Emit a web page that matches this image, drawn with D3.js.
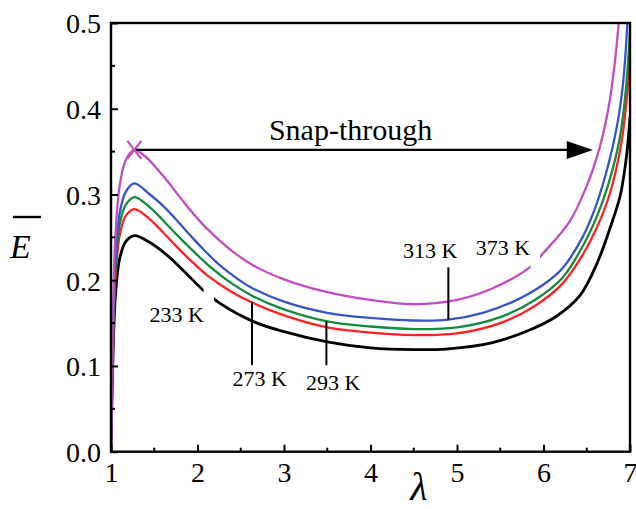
<!DOCTYPE html>
<html><head><meta charset="utf-8">
<script src="https://cdn.jsdelivr.net/npm/d3@7"></script>
<style>body{margin:0;background:#fff}svg{display:block}</style>
</head><body>
<svg id="chart" width="636" height="509"></svg>
<script>
// ---------- data ----------
const xTicks = [1, 2, 3, 4, 5, 6, 7];
const yTicks = [0.0, 0.1, 0.2, 0.3, 0.4, 0.5];
const yTickLabels = ["0.0", "0.1", "0.2", "0.3", "0.4", "0.5"];

const s233 = [[1,0],[1.02,0.10],[1.05,0.18],[1.1,0.225],[1.17,0.245],[1.27,0.252],[1.45,0.244],[1.65,0.229],[1.85,0.210],[2.06,0.189],[2.26,0.173],[2.64,0.152],[3.0,0.140],[3.5,0.128],[4.0,0.121],[4.5,0.119],[4.9,0.120],[5.4,0.127],[5.84,0.142],[6.15,0.158],[6.42,0.182],[6.62,0.220],[6.80,0.270],[6.89,0.300],[6.96,0.345],[7.0,0.39]];
const s273 = [[1,0],[1.02,0.11],[1.05,0.20],[1.1,0.252],[1.17,0.275],[1.27,0.283],[1.45,0.271],[1.6,0.256],[1.75,0.240],[1.91,0.224],[2.12,0.205],[2.4,0.186],[2.63,0.174],[3.0,0.159],[3.5,0.145],[4.0,0.139],[4.5,0.136],[5.0,0.138],[5.5,0.150],[5.9,0.170],[6.22,0.196],[6.45,0.229],[6.62,0.262],[6.77,0.302],[6.9,0.36],[6.97,0.42],[7.0,0.46]];
const s293 = [[1,0],[1.02,0.115],[1.05,0.21],[1.1,0.265],[1.17,0.288],[1.27,0.297],[1.45,0.285],[1.6,0.270],[1.75,0.254],[1.91,0.238],[2.12,0.218],[2.4,0.196],[2.63,0.182],[3.0,0.166],[3.5,0.152],[4.0,0.146],[4.5,0.143],[5.0,0.145],[5.5,0.157],[5.9,0.177],[6.22,0.203],[6.45,0.239],[6.62,0.275],[6.75,0.312],[6.88,0.365],[6.95,0.42],[7.0,0.49]];
const s313 = [[1,0],[1.02,0.12],[1.05,0.22],[1.1,0.278],[1.17,0.303],[1.27,0.313],[1.45,0.300],[1.6,0.287],[1.75,0.271],[1.91,0.253],[2.03,0.240],[2.24,0.219],[2.5,0.199],[2.63,0.191],[3.0,0.175],[3.5,0.162],[4.0,0.156],[4.5,0.153],[4.9,0.154],[5.3,0.162],[5.65,0.175],[6.0,0.195],[6.22,0.214],[6.45,0.250],[6.6,0.285],[6.75,0.335],[6.85,0.38],[6.92,0.43],[6.97,0.5]];
const s373 = [[1,0],[1.02,0.14],[1.05,0.25],[1.1,0.310],[1.17,0.340],[1.27,0.352],[1.4,0.344],[1.6,0.322],[1.85,0.290],[2.1,0.261],[2.4,0.234],[2.65,0.217],[3.0,0.201],[3.5,0.186],[4.0,0.177],[4.5,0.172],[5.0,0.177],[5.4,0.190],[5.84,0.215],[6.0,0.232],[6.3,0.268],[6.5,0.310],[6.65,0.355],[6.75,0.400],[6.82,0.450],[6.87,0.500]];

const seriesNames = ["233 K", "273 K", "293 K", "313 K", "373 K"];
const seriesData = [s233, s273, s293, s313, s373];
const seriesColors = ["#000000", "#ff2020", "#138a3c", "#3556c8", "#c44bc4"];
// gaps in the lines next to labels (lambda ranges)
const seriesGaps = [[2.07, 2.19], null, null, null, [5.85, 5.96]];

// annotations: [label, lambda, E] for text; leader lines [lambda, E from, E to]
const labelPos = [["233 K", 1.76, 0.151], ["273 K", 2.72, 0.077], ["293 K", 3.57, 0.072], ["313 K", 4.69, 0.226], ["373 K", 5.53, 0.229]];
const leaders = [[2.63, 0.174, 0.101], [3.49, 0.152, 0.101], [4.90, 0.154, 0.215]];
const snapPeak = [1.27, 0.352];
const snapEnd = 6.57;

// ---------- drawing ----------
const FONT = '"Liberation Serif", "Times New Roman", serif';
const svg = d3.select("#chart");
const x = d3.scaleLinear().domain([1, 7]).range([111, 630]);
const y = d3.scaleLinear().domain([0, 0.5]).range([451.7, 23]);

const defs = svg.append("defs");
defs.append("clipPath").attr("id", "plotclip").append("rect")
  .attr("x", x(1)).attr("y", y(0.5)).attr("width", x(7) - x(1)).attr("height", y(0) - y(0.5));

seriesGaps.forEach((g, i) => {
  if (!g) return;
  const m = defs.append("mask").attr("id", "gap" + i).attr("maskUnits", "userSpaceOnUse")
    .attr("x", 0).attr("y", 0).attr("width", 636).attr("height", 509);
  m.append("rect").attr("x", 0).attr("y", 0).attr("width", 636).attr("height", 509).attr("fill", "#fff");
  m.append("rect").attr("x", x(g[0])).attr("y", 0).attr("width", x(g[1]) - x(g[0])).attr("height", 509).attr("fill", "#000");
});

const line = d3.line().x(d => x(d[0])).y(d => y(d[1])).curve(d3.curveCatmullRom.alpha(0.5));

const curves = svg.append("g").attr("clip-path", "url(#plotclip)");
seriesData.forEach((data, i) => {
  curves.append("path").datum(data)
    .attr("d", line)
    .attr("fill", "none")
    .attr("stroke", seriesColors[i])
    .attr("stroke-width", i === 0 ? 2.8 : 2.3)
    .attr("mask", seriesGaps[i] ? "url(#gap" + i + ")" : null);
});

// axes
const xAxis = d3.axisBottom(x).tickValues(xTicks).tickSize(-7).tickPadding(15).tickFormat(d3.format("d"));
const gx = svg.append("g").attr("transform", `translate(0,${y(0)})`).call(xAxis);
const yAxis = d3.axisLeft(y).tickValues(yTicks).tickSize(-7).tickPadding(10).tickFormat((d, i) => yTickLabels[i]);
const gy = svg.append("g").attr("transform", `translate(${x(1)},0)`).call(yAxis);
[gx, gy].forEach(g => {
  g.attr("font-family", null).attr("font-size", null);
  g.select(".domain").remove();
  g.selectAll(".tick line").attr("stroke", "#000").attr("stroke-width", 2);
  g.selectAll(".tick text").style("font-family", FONT).style("font-size", "28px").attr("fill", "#000");
});
gx.selectAll(".tick text").attr("dy", "0.71em").attr("y", 10);
gy.selectAll(".tick text").attr("dy", "0.35em");

// minor ticks
const minorX = d3.range(1.5, 7, 1);
svg.append("g").selectAll("line").data(minorX).join("line")
  .attr("x1", d => x(d)).attr("x2", d => x(d)).attr("y1", y(0)).attr("y2", y(0) - 4)
  .attr("stroke", "#000").attr("stroke-width", 2);
const minorY = d3.range(0.05, 0.5, 0.1);
svg.append("g").selectAll("line").data(minorY).join("line")
  .attr("x1", x(1)).attr("x2", x(1) + 4).attr("y1", d => y(d)).attr("y2", d => y(d))
  .attr("stroke", "#000").attr("stroke-width", 2);

// frame
svg.append("rect").attr("x", x(1)).attr("y", y(0.5)).attr("width", x(7) - x(1)).attr("height", y(0) - y(0.5))
  .attr("fill", "none").attr("stroke", "#000").attr("stroke-width", 2.4);

// axis titles
svg.append("text").attr("x", 10).attr("y", 258)
  .style("font-family", FONT).style("font-style", "italic").style("font-size", "34px").attr("fill", "#000").text("E");
svg.append("line").attr("x1", 13).attr("x2", 41).attr("y1", 217).attr("y2", 217).attr("stroke", "#000").attr("stroke-width", 2.4);
svg.append("text").attr("x", 419).attr("y", 500).attr("text-anchor", "middle")
  .style("font-family", FONT).style("font-style", "italic").style("font-size", "40px").attr("fill", "#000").text("λ");

// leaders
svg.append("g").selectAll("line").data(leaders).join("line")
  .attr("x1", d => x(d[0])).attr("x2", d => x(d[0])).attr("y1", d => y(d[1])).attr("y2", d => y(d[2]))
  .attr("stroke", "#000").attr("stroke-width", 2);

// labels
svg.append("g").selectAll("text").data(labelPos).join("text")
  .attr("x", d => x(d[1])).attr("y", d => y(d[2])).attr("text-anchor", "middle")
  .style("font-family", FONT).style("font-size", "22px").attr("fill", "#000").text(d => d[0]);

// snap-through arrow
svg.append("line").attr("x1", x(snapPeak[0])).attr("x2", x(snapEnd) - 22)
  .attr("y1", y(snapPeak[1])).attr("y2", y(snapPeak[1])).attr("stroke", "#000").attr("stroke-width", 2.2);
const tipX = x(snapEnd), tipY = y(snapPeak[1]);
svg.append("path").attr("d", `M${tipX},${tipY} L${tipX - 26},${tipY - 9} L${tipX - 26},${tipY + 9} Z`).attr("fill", "#000");
svg.append("text").attr("x", x(3.77)).attr("y", y(0.364)).attr("text-anchor", "middle")
  .style("font-family", FONT).style("font-size", "30px").attr("fill", "#000").text("Snap-through");

// X marker at the peak of the 373 K curve
const px = x(snapPeak[0]), py = y(snapPeak[1]);
svg.append("path").attr("d", `M${px - 7},${py - 9} L${px + 7},${py + 9} M${px + 7},${py - 9} L${px - 7},${py + 9}`)
  .attr("stroke", seriesColors[4]).attr("stroke-width", 2.2).attr("fill", "none");
</script>
</body></html>
